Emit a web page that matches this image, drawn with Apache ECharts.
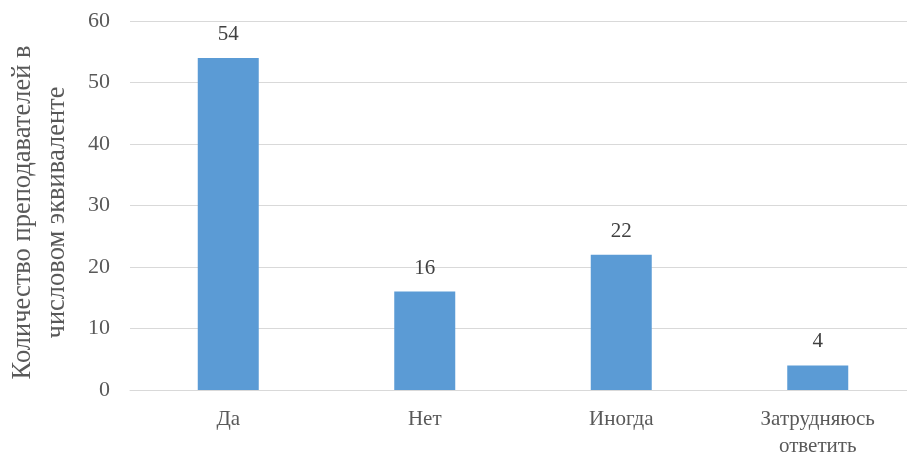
<!DOCTYPE html>
<html>
<head>
<meta charset="utf-8">
<script src="https://cdn.jsdelivr.net/npm/echarts@6/dist/echarts.min.js"></script>
<style>
  html, body { margin: 0; padding: 0; background: #fff; }
  #chart-container { width: 907px; height: 454px; }
</style>
</head>
<body>
<div id="chart-container"></div>
<script>
const categories = ['Да', 'Нет', 'Иногда', 'Затрудняюсь\nответить'];
const values = [54, 16, 22, 4];
const yTicks = [0, 10, 20, 30, 40, 50, 60];

var chartDom = document.getElementById('chart-container');
var myChart = echarts.init(chartDom);
var option;

const font = '"Liberation Serif", "Times New Roman", serif';

option = {
    animation: false,
    textStyle: { fontFamily: font },
    grid: {
        left: 130,
        width: 786,
        top: 21,
        height: 369,
        outerBoundsMode: 'none',
        containLabel: false
    },
    xAxis: {
        type: 'category',
        data: categories,
        axisTick: { show: false },
        axisLine: { lineStyle: { color: '#d9d9d9', width: 1 } },
        axisLabel: {
            color: '#595959',
            fontFamily: font,
            fontSize: 21,
            lineHeight: 27,
            margin: 16
        }
    },
    yAxis: {
        type: 'value',
        min: yTicks[0],
        max: yTicks[yTicks.length - 1],
        interval: 10,
        name: 'Количество преподавателей в\nчисловом эквиваленте',
        nameLocation: 'middle',
        nameGap: 56,
        nameTextStyle: {
            color: '#595959',
            fontFamily: font,
            fontSize: 26.5,
            lineHeight: 34,
            padding: [0, 14, 0, 0]
        },
        axisLine: { show: false },
        axisTick: { show: false },
        splitLine: { lineStyle: { color: '#d9d9d9', width: 1 } },
        axisLabel: {
            color: '#595959',
            fontFamily: font,
            fontSize: 22,
            margin: 20
        }
    },
    series: [
        {
            type: 'bar',
            data: values,
            barWidth: 61,
            itemStyle: { color: '#5b9bd5' },
            label: {
                show: true,
                position: 'top',
                distance: 13,
                color: '#404040',
                fontFamily: font,
                fontSize: 21
            }
        }
    ]
};

option && myChart.setOption(option);
</script>
</body>
</html>
